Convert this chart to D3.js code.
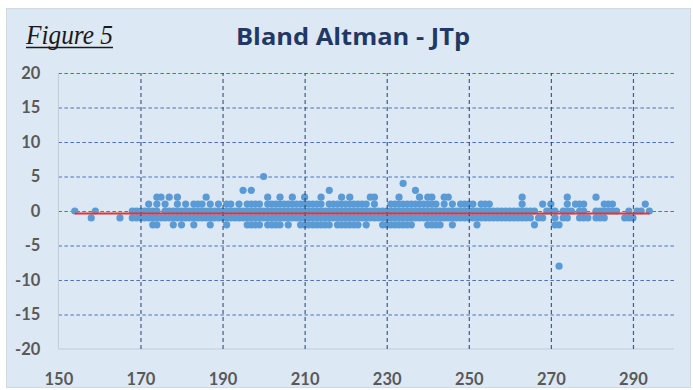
<!DOCTYPE html>
<html><head><meta charset="utf-8">
<script src="https://cdn.jsdelivr.net/npm/d3@7"></script>
<style>body{margin:0;background:#fff}</style>
</head><body><svg id="c" width="693" height="390"></svg>
<script>
// ---- data ----
const xTicks = [150, 170, 190, 210, 230, 250, 270, 290];
const yTicks = [-20, -15, -10, -5, 0, 5, 10, 15, 20];
const meanDiff = -0.35;
const xAtPlus5 = [200];
const xAtPlus4 = [234];
const xAtPlus3 = [195, 197, 216, 237];
const xAtPlus2 = [174,175,177,179,186,201,204,207,210,214,219,221,226,227,233,238,240,241,244,245,263,274,281];
const xAtPlus1 = [172,174,176,179,181,183,184,185,187,189,191,192,194,196,197,198,199,201,202,203,204,205,206,207,208,209,210,211,212,213,214,216,217,218,219,220,221,222,223,224,225,227,231,232,233,234,235,236,237,238,239,240,241,242,244,246,248,249,250,251,253,254,255,263,268,270,274,276,277,278,283,284,285,293];
const xAtZero = [154,159,168,169,170,171,172,173,174,176,177,178,179,180,181,182,183,184,185,186,187,188,189,190,191,192,193,194,195,196,197,198,199,200,201,202,203,204,205,206,207,208,209,210,211,212,213,214,215,216,217,218,219,220,221,222,223,224,225,226,227,228,229,230,231,232,233,234,235,236,237,238,239,240,241,242,243,244,245,246,247,248,249,250,251,252,253,254,255,256,257,258,259,260,261,262,263,264,265,266,269,270,271,273,274,275,277,278,281,282,283,284,285,286,289,291,292,294];
const xAtMinus1 = [158,165,168,169,170,171,172,173,174,175,176,177,178,179,180,181,182,183,184,185,186,187,188,189,190,191,192,193,194,195,196,197,198,199,200,201,202,203,204,205,206,207,208,209,210,211,212,213,214,215,216,217,218,219,220,221,222,223,224,225,226,227,228,229,230,231,232,233,234,235,236,237,238,239,240,241,242,243,244,245,246,247,248,249,250,251,252,253,254,255,256,257,258,259,260,261,262,263,264,265,267,268,271,273,274,277,278,279,281,282,283,288,289,290];
const xAtMinus2 = [173,174,178,180,183,187,191,196,197,198,199,201,202,203,204,206,209,210,211,212,213,214,215,216,218,219,220,221,222,223,225,229,230,231,232,233,234,235,236,240,241,242,243,246,252,266,271,272];
const xAtMinus8 = [272];

const levels = [
  [5, xAtPlus5], [4, xAtPlus4], [3, xAtPlus3], [2, xAtPlus2], [1, xAtPlus1],
  [0, xAtZero], [-1, xAtMinus1], [-2, xAtMinus2], [-8, xAtMinus8]
];
const points = [];
levels.forEach(([d, xs]) => xs.forEach(m => points.push({mean: m, diff: d})));

// ---- layout ----
const svg = d3.select("#c");
const L = 58.4, R = 674, T = 73, B = 349;
const x = d3.scaleLinear().domain([150, 300]).range([L, R]);
const y = d3.scaleLinear().domain([-20, 20]).range([B, T]);
const fmt = d => String(d);

svg.append("rect").attr("x", 6.5).attr("y", 8.5).attr("width", 684).attr("height", 379)
  .attr("fill", "#dde8f5").attr("stroke", "#d4d9e0");

// horizontal grid
const hg = svg.append("g").attr("transform", `translate(${L},0)`)
  .call(d3.axisLeft(y).tickValues(yTicks.filter(v => v > -20)).tickSize(-(R - L)).tickFormat(""));
hg.select(".domain").remove();
hg.selectAll("line").attr("stroke", "#4a72b8").attr("stroke-width", 1).attr("stroke-dasharray", "3.5,2.5");

// axis lines
svg.append("line").attr("x1", L).attr("x2", L).attr("y1", T).attr("y2", B).attr("stroke", "#c3cbd6");
svg.append("line").attr("x1", L).attr("x2", R).attr("y1", B).attr("y2", B).attr("stroke", "#c3cbd6");

// tick labels
const ya = svg.append("g").attr("transform", `translate(${L},0)`)
  .call(d3.axisLeft(y).tickValues(yTicks).tickSize(0).tickPadding(18).tickFormat(fmt));
ya.select(".domain").remove();
ya.selectAll("text").attr("font-family", "Lato, 'Open Sans', sans-serif").attr("font-size", 16.5)
  .attr("font-weight", "bold").attr("fill", "#595959");

const xa = svg.append("g").attr("transform", `translate(0,${B})`)
  .call(d3.axisBottom(x).tickValues(xTicks).tickSize(0).tickPadding(24).tickFormat(fmt));
xa.select(".domain").remove();
xa.selectAll("text").attr("font-family", "Lato, 'Open Sans', sans-serif").attr("font-size", 16.5)
  .attr("font-weight", "bold").attr("fill", "#595959");

// points
svg.append("g").selectAll("circle").data(points).join("circle")
  .attr("cx", d => x(d.mean)).attr("cy", d => y(d.diff)).attr("r", 3.6)
  .attr("fill", "#5b9bd5");

// vertical grid (visible through the point band)
const vg = svg.append("g").attr("transform", `translate(0,${B})`)
  .call(d3.axisBottom(x).tickValues(xTicks.filter(v => v > 150)).tickSize(-(B - T)).tickFormat(""));
vg.select(".domain").remove();
vg.selectAll("line").attr("stroke", "#1f3864").attr("stroke-width", 1.2)
  .attr("stroke-dasharray", "4,3").attr("stroke-opacity", 0.8);

// mean line
const xs = points.map(p => p.mean);
svg.append("line")
  .attr("x1", x(d3.min(xs))).attr("x2", x(d3.max(xs)))
  .attr("y1", y(meanDiff)).attr("y2", y(meanDiff))
  .attr("stroke", "#e8322e").attr("stroke-width", 2);

// titles
svg.append("text").attr("x", 353).attr("y", 45).attr("text-anchor", "middle")
  .attr("font-family", "'Open Sans', Lato, sans-serif").attr("font-weight", "bold")
  .attr("font-size", 23).attr("fill", "#1f3864")
  .attr("textLength", 234).attr("lengthAdjust", "spacingAndGlyphs")
  .text("Bland Altman - JTp");
svg.append("text").attr("x", 26).attr("y", 44)
  .attr("font-family", "'Liberation Serif', serif").attr("font-style", "italic")
  .attr("font-size", 27).attr("fill", "#1a1a1a")
  .attr("textLength", 87).attr("lengthAdjust", "spacingAndGlyphs")
  .text("Figure 5");
svg.append("line").attr("x1", 26).attr("x2", 113).attr("y1", 47.5).attr("y2", 47.5)
  .attr("stroke", "#1a1a1a").attr("stroke-width", 1.4);
</script></body></html>
